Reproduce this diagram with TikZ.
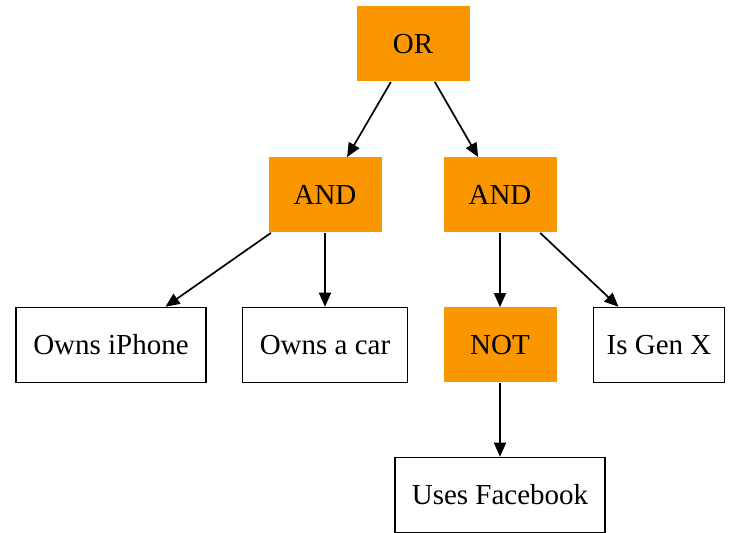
\documentclass[tikz,border=0pt]{standalone}
\usepackage{fontspec}
\setmainfont{Liberation Serif}
\usetikzlibrary{arrows.meta}
\definecolor{gateorange}{RGB}{250,150,0}
\begin{document}
\begin{tikzpicture}[x=0.5pt, y=-0.5pt]
	\tikzset{gate/.style={fill=gateorange, inner sep=0pt, minimum width=56.5pt, minimum height=37.5pt, font=\fontsize{14.5}{17}\selectfont},
		leaf/.style={draw, line width=0.75pt, inner sep=0pt, minimum height=37.5pt, font=\fontsize{14.5}{17}\selectfont},
		tree lines/.style={line width=0.85pt, black, -{Triangle[length=7pt, width=6pt]}}}
	\useasboundingbox (0, 0) rectangle (735, 533);
	% gates
	\node [gate] (or) at (413, 44) {OR};
	\node [gate] (andl) at (325, 195) {AND};
	\node [gate] (andr) at (500, 195) {AND};
	\node [gate] (not) at (500, 345) {NOT};
	% leaves
	\node [leaf, minimum width=95pt] (iphone) at (111, 345) {Owns iPhone};
	\node [leaf, minimum width=82.5pt] (car) at (325, 345) {Owns a car};
	\node [leaf, minimum width=65.5pt] (genx) at (659, 345) {Is Gen X};
	\node [leaf, minimum width=105pt] (facebook) at (500, 495) {Uses Facebook};
	\draw [tree lines] (or) -- (andl);
	\draw [tree lines] (or) -- (andr);
	\draw [tree lines] (andl) -- (iphone);
	\draw [tree lines] (andl) -- (car);
	\draw [tree lines] (andr) -- (not);
	\draw [tree lines] (andr) -- (genx);
	\draw [tree lines] (not) -- (facebook);
\end{tikzpicture}
\end{document}
